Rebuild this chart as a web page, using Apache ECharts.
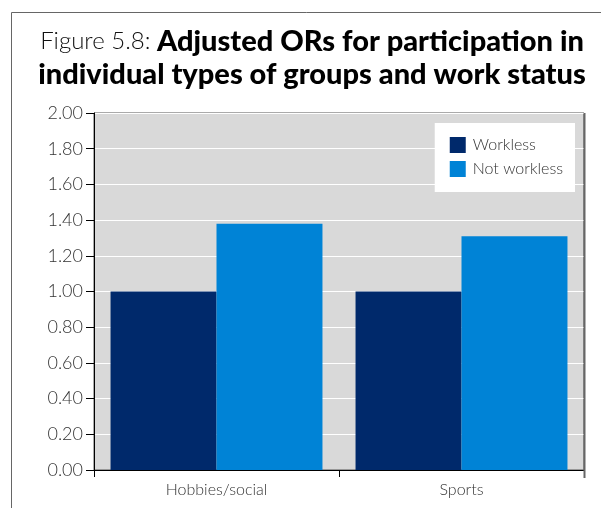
<!DOCTYPE html>
<html>
<head>
<meta charset="utf-8">
<script src="https://cdn.jsdelivr.net/npm/echarts@6/dist/echarts.min.js"></script>
<style>html,body{margin:0;padding:0;background:#fff}#c{width:601px;height:508px}</style>
</head>
<body>
<div id="c"></div>
<script>
var categories = ['Hobbies/social', 'Sports'];
var workless = [1.00, 1.00];
var notWorkless = [1.38, 1.31];
var yTicks = [0, 0.2, 0.4, 0.6, 0.8, 1.0, 1.2, 1.4, 1.6, 1.8, 2.0];

var chart = echarts.init(document.getElementById('c'), null, {renderer: 'canvas'});
var FONT = 'Lato';
chart.setOption({
  animation: false,
  backgroundColor: '#fff',
  title: {
    text: '{n|Figure 5.8: }{b|Adjusted ORs for participation in}\n{b|individual types of groups and work status}',
    left: 307, top: 20, textAlign: 'center',
    textStyle: {
      rich: {
        n: {fontFamily: FONT, fontWeight: 300, fontSize: 24, color: '#111', lineHeight: 33},
        b: {fontFamily: FONT, fontWeight: 900, fontSize: 29, color: '#000', lineHeight: 33}
      }
    }
  },
  graphic: [
    {type: 'line', shape: {x1: 11.5, y1: 12.5, x2: 601, y2: 12.5}, style: {stroke: '#666', lineWidth: 1}},
    {type: 'line', shape: {x1: 11.5, y1: 12.5, x2: 11.5, y2: 508}, style: {stroke: '#666', lineWidth: 1}},
    {type: 'line', shape: {x1: 584.5, y1: 113, x2: 584.5, y2: 478}, style: {stroke: '#666', lineWidth: 2}, z: 10}
  ],
  legend: {
    right: 601 - 575, top: 123,
    orient: 'vertical',
    backgroundColor: '#fff',
    padding: [14, 12, 15, 15],
    itemWidth: 16, itemHeight: 16, itemGap: 8,
    icon: 'rect',
    textStyle: {fontFamily: FONT, fontWeight: 300, fontSize: 16, color: '#333', padding: [0, 0, 0, 2]},
    data: ['Workless', 'Not workless']
  },
  grid: {
    left: 94, right: 17, top: 113, bottom: 38,
    show: true, backgroundColor: '#d9d9d9', borderColor: '#555', borderWidth: 1
  },
  xAxis: {
    type: 'category', data: categories,
    axisLine: {lineStyle: {color: '#000', width: 1}},
    axisTick: {show: true, length: 7, lineStyle: {color: '#000'}},
    axisLabel: {fontFamily: FONT, fontWeight: 300, fontSize: 16, color: '#333', margin: 12}
  },
  yAxis: {
    type: 'value', min: 0, max: 2, interval: 0.2,
    axisLine: {show: true, lineStyle: {color: '#000', width: 1}},
    axisTick: {show: true, length: 8, lineStyle: {color: '#000'}},
    splitLine: {show: true, lineStyle: {color: '#fff', width: 1}},
    axisLabel: {fontFamily: FONT, fontWeight: 300, fontSize: 18, color: '#333', margin: 11,
      formatter: function (v) { return v.toFixed(2); }}
  },
  series: [
    {name: 'Workless', type: 'bar', data: workless, itemStyle: {color: '#00296b'},
     barGap: '0%', barCategoryGap: '13.5%'},
    {name: 'Not workless', type: 'bar', data: notWorkless, itemStyle: {color: '#0083d6'},
     barGap: '0%', barCategoryGap: '13.5%'}
  ]
});
</script>
</body>
</html>
